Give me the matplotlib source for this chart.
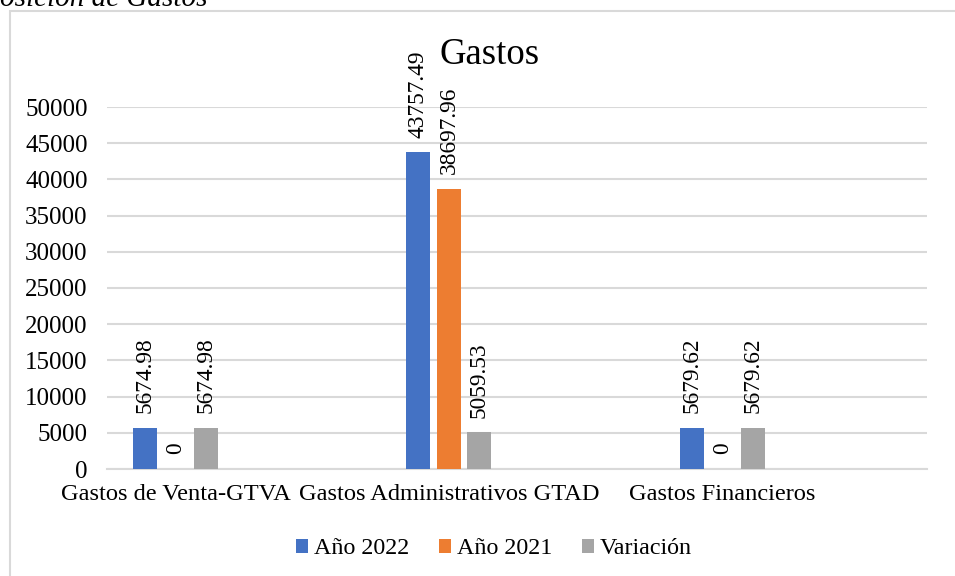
import matplotlib
matplotlib.use("Agg")
import matplotlib.pyplot as plt
from matplotlib.patches import Rectangle
import numpy as np

categories = ["Gastos de Venta-GTVA", "Gastos Administrativos GTAD", "Gastos Financieros"]
series_names = ["Año 2022", "Año 2021", "Variación"]
anio_2022 = [5674.98, 43757.49, 5679.62]
anio_2021 = [0, 38697.96, 0]
variacion = [5674.98, 5059.53, 5679.62]
label_texts = [["5674.98", "43757.49", "5679.62"],
               ["0", "38697.96", "0"],
               ["5674.98", "5059.53", "5679.62"]]
yticks = list(range(0, 50001, 5000))

colors = ["#4472C4", "#ED7D31", "#A5A5A5"]
offsets = [-0.361, -0.249, -0.138]
bar_w = 0.088

plt.rcParams['font.family'] = ['Liberation Serif', 'DejaVu Serif']

fig = plt.figure(figsize=(9.55, 5.76), dpi=100)
ax = fig.add_axes([107/955, 1-469/576, (927-107)/955, (469-107)/576])

# chart frame
fig.patches.append(Rectangle((10/955, -0.1), 1.2, 1-11/576+0.1, transform=fig.transFigure,
                             fill=False, edgecolor="#D9D9D9", linewidth=1.5))

fig.text(0, 1-6/576, "osición de Gastos", fontsize=21, style='italic', ha='left', va='baseline')

x = np.arange(len(categories))
data = [anio_2022, anio_2021, variacion]
for i, (vals, c, name) in enumerate(zip(data, colors, series_names)):
    bars = ax.bar(x + offsets[i], vals, width=bar_w, color=c, label=name, zorder=3)
    for j, b in enumerate(bars):
        ax.annotate(label_texts[i][j], (b.get_x() + b.get_width()/2, b.get_height()),
                    xytext=(0, 10.5), textcoords='offset points', rotation=90,
                    ha='center', va='bottom', fontsize=16.8)

ax.set_xlim(-0.5, 2.5)
ax.set_ylim(0, 50000)
ax.set_yticks(yticks)
ax.set_yticklabels([str(v) for v in yticks], fontsize=18)
ax.set_xticks(x + offsets[1])
ax.set_xticklabels(categories, fontsize=17.6)
ax.tick_params(axis='both', length=0)
ax.tick_params(axis='x', pad=11)
ax.tick_params(axis='y', pad=14)
ax.xaxis.get_majorticklabels()[1].set_x(x[1] + offsets[1] - 0.01)
ax.grid(axis='y', color="#D9D9D9", linewidth=1.5, zorder=0)
for s in ['top', 'right', 'left']:
    ax.spines[s].set_visible(False)
ax.spines['bottom'].set_color("#D9D9D9")
ax.spines['bottom'].set_linewidth(1.5)

fig.text(490/955, 1-55/576, "Gastos", fontsize=26.5, ha='center', va='center')

leg = fig.legend(loc='center', bbox_to_anchor=(494/955, 1-549/576), ncol=3, frameon=False,
                 fontsize=17.3, handlelength=0.5, handleheight=0.5, handletextpad=0.22,
                 columnspacing=1.27)

fig.savefig("out.png", dpi=100)
